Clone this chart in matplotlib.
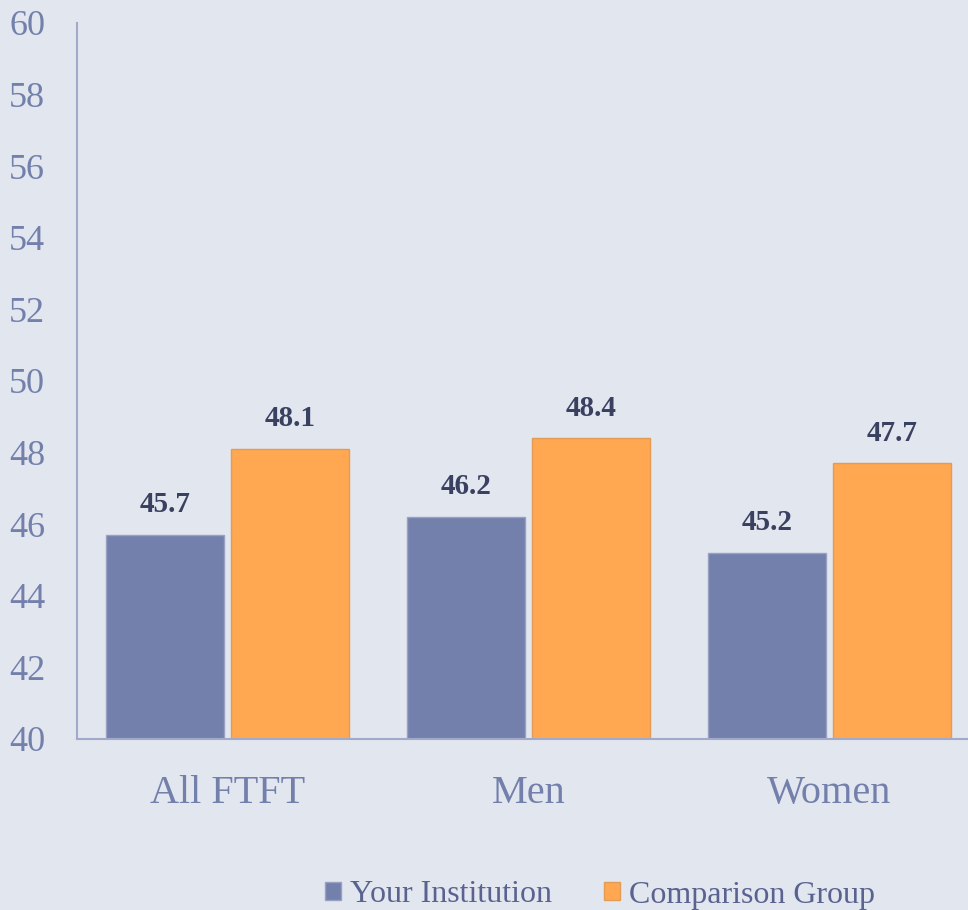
import matplotlib
matplotlib.use("Agg")
import matplotlib.pyplot as plt
import numpy as np

# data
categories = ["All FTFT", "Men", "Women"]
your_inst = [45.7, 46.2, 45.2]
comparison = [48.1, 48.4, 47.7]
series_names = ["Your Institution", "Comparison Group"]

BG = "#E2E6EF"
BLUE = "#7480AC"
ORANGE = "#FFA751"
AXIS = "#A3AAC9"
LABEL = "#3A4060"

plt.rcParams["font.family"] = ["Liberation Serif", "DejaVu Serif"]

fig = plt.figure(figsize=(9.68, 9.10), dpi=100, facecolor=BG)
ax = fig.add_axes([77 / 968, 171 / 910, 903 / 968, 716 / 910], facecolor=BG)

x = np.arange(len(categories))
w = 0.393
b1 = ax.bar(x - 0.208, your_inst, w, color=BLUE, edgecolor="#98A0C4",
            linewidth=1, label=series_names[0])
b2 = ax.bar(x + 0.208, comparison, w, color=ORANGE, edgecolor="#E39C55",
            linewidth=1, label=series_names[1])

for bars in (b1, b2):
    for r in bars:
        ax.annotate(f"{r.get_height():.1f}", (r.get_x() + r.get_width() / 2, r.get_height()),
                    xytext=(0, 12), textcoords="offset points", ha="center", va="bottom",
                    fontsize=21, fontweight="bold", color=LABEL)

ax.set_ylim(40, 60)
ax.set_xlim(-0.5, 2.5)
ax.set_yticks(range(40, 61, 2))
ax.set_xticks(x)
ax.set_xticklabels(categories)
ax.tick_params(axis="y", length=0, pad=23, labelsize=26, labelcolor=BLUE)
ax.tick_params(axis="x", length=0, pad=26, labelsize=29, labelcolor=BLUE)

for s in ("top", "right"):
    ax.spines[s].set_visible(False)
for s in ("left", "bottom"):
    ax.spines[s].set_color(AXIS)
    ax.spines[s].set_linewidth(1.5)

leg = fig.legend(handles=[b1, b2], labels=series_names, loc="center", bbox_to_anchor=(600 / 968, 1 - 895 / 910),
                 ncol=2, frameon=False, fontsize=23, handlelength=0.5, handleheight=0.5,
                 handletextpad=0.3, columnspacing=1.6, labelcolor="#5A6390")

fig.savefig("out.png", dpi=100, facecolor=BG)
